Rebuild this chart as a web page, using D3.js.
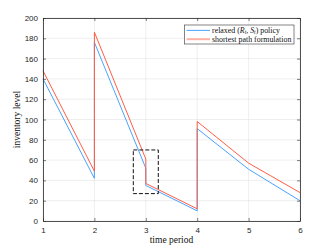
<!DOCTYPE html>
<html>
<head>
<meta charset="utf-8">
<script src="https://cdn.jsdelivr.net/npm/d3@7"></script>
<style>
  body { margin: 0; background: #fff; }
  svg { display: block; }
</style>
</head>
<body>
<svg id="chart" width="332" height="249"></svg>
<script>
// inventory levels (vertical jumps = order arrivals)
const periods = [1, 2, 2, 3, 3, 4, 4, 5, 6];
const relaxed = [140, 42, 176, 52, 35, 10, 91, 51, 20];
const shortest = [148, 49, 186, 61, 37, 12, 98, 57, 28];
const xTicks = [1, 2, 3, 4, 5, 6];
const yTicks = [0, 20, 40, 60, 80, 100, 120, 140, 160, 180, 200];
const zoomBox = { x0: 2.757, x1: 3.243, y0: 27, y1: 70 };

const BLUE = "#4aa3ff";
const RED = "#ff5e45";
const AXIS = "#262626";

const svg = d3.select("#chart");
const m = { left: 43, right: 300, top: 18, bottom: 221 };

const x = d3.scaleLinear().domain([1, 6]).range([m.left, m.right]);
const y = d3.scaleLinear().domain([0, 200]).range([m.bottom, m.top]);

// grid
const grid = svg.append("g").attr("stroke", "#e3e3e3").attr("stroke-width", 0.6);
grid.selectAll("line.v").data(xTicks).enter().append("line")
  .attr("x1", d => x(d)).attr("x2", d => x(d))
  .attr("y1", m.top).attr("y2", m.bottom);
grid.selectAll("line.h").data(yTicks).enter().append("line")
  .attr("y1", d => y(d)).attr("y2", d => y(d))
  .attr("x1", m.left).attr("x2", m.right);

// series
const line = d3.line().x(d => x(d[0])).y(d => y(d[1]));
svg.append("path").datum(d3.zip(periods, relaxed))
  .attr("d", line).attr("fill", "none").attr("stroke", BLUE).attr("stroke-width", 1);
svg.append("path").datum(d3.zip(periods, shortest))
  .attr("d", line).attr("fill", "none").attr("stroke", RED).attr("stroke-width", 1);

// dashed zoom box
svg.append("rect")
  .attr("x", x(zoomBox.x0)).attr("y", y(zoomBox.y1))
  .attr("width", x(zoomBox.x1) - x(zoomBox.x0))
  .attr("height", y(zoomBox.y0) - y(zoomBox.y1))
  .attr("fill", "none").attr("stroke", "#111").attr("stroke-width", 1)
  .attr("stroke-dasharray", "4,2");

// axes (ticks inward on all four sides)
const fontTick = "'Liberation Sans', Arial, sans-serif";
const styleAxis = g => {
  g.select(".domain").attr("stroke", AXIS).attr("stroke-width", 0.8);
  g.selectAll(".tick line").attr("stroke", AXIS).attr("stroke-width", 0.6);
  g.selectAll(".tick text").attr("fill", AXIS).style("font-family", fontTick).style("font-size", "8px");
};
svg.append("g").attr("transform", `translate(0,${m.bottom})`)
  .call(d3.axisBottom(x).tickValues(xTicks).tickFormat(d3.format("d")).tickSize(-3).tickPadding(6).tickSizeOuter(0))
  .call(styleAxis);
svg.append("g").attr("transform", `translate(0,${m.top})`)
  .call(d3.axisTop(x).tickValues(xTicks).tickSize(-3).tickFormat("").tickSizeOuter(0))
  .call(styleAxis);
svg.append("g").attr("transform", `translate(${m.left},0)`)
  .call(d3.axisLeft(y).tickValues(yTicks).tickSize(-3).tickPadding(5).tickSizeOuter(0))
  .call(styleAxis);
svg.append("g").attr("transform", `translate(${m.right},0)`)
  .call(d3.axisRight(y).tickValues(yTicks).tickSize(-3).tickFormat("").tickSizeOuter(0))
  .call(styleAxis);

// axis labels
const serif = "'Liberation Serif', 'DejaVu Serif', serif";
svg.append("text").attr("x", (m.left + m.right) / 2).attr("y", 243)
  .attr("text-anchor", "middle").style("font-family", serif).style("font-size", "9.5px")
  .attr("fill", "#111").text("time period");
svg.append("text").attr("transform", `translate(20,${(m.top + m.bottom) / 2}) rotate(-90)`)
  .attr("text-anchor", "middle").style("font-family", serif).style("font-size", "9.5px")
  .attr("fill", "#111").text("inventory level");

// legend
const lg = svg.append("g");
lg.append("rect").attr("x", 184.5).attr("y", 25).attr("width", 109.5).attr("height", 19)
  .attr("fill", "#fff").attr("stroke", "#333").attr("stroke-width", 0.6);

const row1 = 30.4, row2 = 39.2;
lg.append("line").attr("x1", 186.5).attr("x2", 210).attr("y1", row1).attr("y2", row1)
  .attr("stroke", BLUE).attr("stroke-width", 1);
lg.append("line").attr("x1", 186.5).attr("x2", 210).attr("y1", row2).attr("y2", row2)
  .attr("stroke", "#ffb3a6").attr("stroke-width", 2);

const t1 = lg.append("text").attr("x", 212).attr("y", row1 + 2.5)
  .style("font-family", serif).style("font-size", "7.9px").attr("fill", "#111");
t1.append("tspan").text("relaxed (");
t1.append("tspan").text("R").style("font-style", "italic");
t1.append("tspan").text("t").style("font-style", "italic").style("font-size", "5.5px").attr("dy", 1);
t1.append("tspan").text(", ").attr("dy", -1);
t1.append("tspan").text("S").style("font-style", "italic");
t1.append("tspan").text("t").style("font-style", "italic").style("font-size", "5.5px").attr("dy", 1);
t1.append("tspan").text(") policy").attr("dy", -1);

lg.append("text").attr("x", 212).attr("y", row2 + 2.5)
  .style("font-family", serif).style("font-size", "7.9px").attr("fill", "#111")
  .text("shortest path formulation");
</script>
</body>
</html>
